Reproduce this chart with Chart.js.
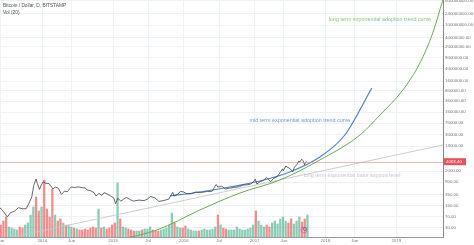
<!DOCTYPE html>
<html><head><meta charset="utf-8">
<script src="https://cdn.jsdelivr.net/npm/chart.js@4.4.0/dist/chart.umd.min.js"></script>
<style>html,body{margin:0;padding:0;background:#fff;overflow:hidden}#wrap{position:relative;width:474px;height:245px}</style>
</head><body><div id="wrap"><canvas id="c" width="474" height="245"></canvas></div>
<script>
// ---------- DATA ----------
const priceDates = ['2013-05-25','2013-06-01','2013-06-15','2013-07-05','2013-07-20','2013-08-10','2013-08-31','2013-09-20','2013-10-10','2013-10-25','2013-11-08','2013-11-18','2013-11-30','2013-12-07','2013-12-18','2013-12-25','2014-01-05','2014-01-20','2014-02-05','2014-02-25','2014-03-10','2014-03-25','2014-04-10','2014-04-25','2014-05-10','2014-05-30','2014-06-15','2014-07-05','2014-07-25','2014-08-10','2014-08-20','2014-09-05','2014-09-25','2014-10-05','2014-10-20','2014-11-05','2014-11-15','2014-12-01','2014-12-20','2015-01-05','2015-01-14','2015-01-25','2015-02-10','2015-03-10','2015-03-30','2015-04-15','2015-05-15','2015-06-10','2015-06-30','2015-07-12','2015-08-05','2015-08-25','2015-09-20','2015-10-15','2015-11-04','2015-11-12','2015-12-01','2015-12-15','2016-01-01','2016-01-15','2016-02-10','2016-03-01','2016-04-01','2016-05-01','2016-05-25','2016-06-16','2016-06-25','2016-07-15','2016-08-02','2016-08-25','2016-09-20','2016-10-15','2016-11-01','2016-11-20','2016-12-10','2016-12-25','2017-01-04','2017-01-12','2017-01-28','2017-02-15','2017-03-03','2017-03-10','2017-03-24','2017-04-10','2017-04-28','2017-05-10','2017-05-25','2017-05-28','2017-06-11','2017-06-20','2017-07-01','2017-07-16','2017-07-25','2017-08-05','2017-08-17','2017-08-22','2017-09-01','2017-09-08','2017-09-15','2017-09-20','2017-09-27'];
const priceValues = [130,128,100,68,92,103,135,125,125,190,300,700,1130,800,520,680,920,820,800,540,620,570,360,460,440,630,600,630,595,585,500,480,410,320,390,335,410,375,320,275,180,270,220,290,245,220,237,228,260,310,280,215,230,255,420,320,370,455,430,380,380,430,416,450,450,750,620,665,540,575,605,640,725,730,770,900,1130,780,920,1010,1270,1150,930,1200,1350,1750,2400,2050,2950,2700,2450,1950,2700,3200,4300,4000,4900,4300,3250,3900,4063.4];
const lastPrice = 4063.40;

const volStart = '2013-05-25';
const volStepDays = 14;
const volValues = [12,16,20,10,9,8,7,10,9,12,14,22,30,40,26,30,57,28,20,48,22,16,18,14,12,12,10,9,8,7,7,8,7,9,10,9,28,9,10,8,9,12,14,54,18,10,9,8,7,6,6,6,7,8,8,10,7,6,6,7,8,9,12,24,14,10,9,9,11,8,7,6,6,6,7,8,7,7,8,10,22,12,9,8,7,7,7,10,8,7,7,8,9,12,26,16,12,10,12,10,14,16,13,18,20,16,14,18,13,16,20,15,18,22];

const midDates = ['2015-10-21','2016-03-24','2016-08-26','2017-01-28','2017-07-01','2017-12-03','2018-04-11','2018-08-28'];
const midValues = [321,431,625,975,1899,5766,29380,955000];

const longDates = ['2014-09-03','2015-08-15','2016-03-24','2016-10-17','2017-05-11','2017-12-03','2018-06-28','2018-10-09','2019-02-04','2019-05-03','2019-07-08','2019-08-29'];
const longValues = [8.5,25.9,114,401,1050,4620,29380,129400,824000,6080000,56000000,647000000];

const baseDates = ['2013-05-27','2019-08-29'];
const baseValues = [12.5,14000];

const xTickDates = ['2013-06-01','2014-01-01','2014-06-01','2015-01-01','2015-07-01','2016-01-01','2016-07-01','2017-01-01','2017-06-01','2018-01-01','2018-06-01','2019-01-01'];
const xTickLabels = ['Jun','2014','Jun','2015','Jul','2016','Jul','2017','Jun','2018','Jun','2019'];
const yTickValues = [30,70,160,360,900,2000,13000,30000,70000,160000,360000,800000,1600000,4000000,9000000,20000000,40000000,100000000,240000000,600000000];

// ---------- HELPERS ----------
function toYear(s){const d=Date.parse(s+'T00:00:00Z');const y=new Date(d).getUTCFullYear();const a=Date.UTC(y,0,1),b=Date.UTC(y+1,0,1);return y+(d-a)/(b-a);}
function pts(ds,vs){return ds.map((d,i)=>({x:toYear(d),y:vs[i]}));}
const pricePts = pts(priceDates,priceValues);
function priceAt(t){for(let i=1;i<pricePts.length;i++){if(pricePts[i].x>=t){const a=pricePts[i-1],b=pricePts[i];return a.y+(b.y-a.y)*(t-a.x)/(b.x-a.x);}}return pricePts[pricePts.length-1].y;}
const volStartMs = Date.parse(volStart+'T00:00:00Z');
const volPts=[],volCols=[];
volValues.forEach((v,i)=>{
  const s=new Date(volStartMs+i*volStepDays*864e5).toISOString().slice(0,10);
  const e=new Date(volStartMs+(i+1)*volStepDays*864e5).toISOString().slice(0,10);
  const xs=toYear(s),xe=toYear(e);
  volPts.push({x:(xs+xe)/2,y:v});
  volCols.push(priceAt(xe)>=priceAt(xs)?'rgba(60,170,130,0.6)':'rgba(235,80,80,0.65)');
});

const FONT='"Liberation Sans", Arial, sans-serif';

const overlay={id:'overlay',
  afterDatasetsDraw(chart){
    const {ctx,chartArea:ca,scales:{x,y}}=chart;
    ctx.save();
    const py=Math.round(y.getPixelForValue(lastPrice))+0.5;
    ctx.strokeStyle='rgba(240,120,130,0.55)';ctx.lineWidth=1;
    ctx.beginPath();ctx.moveTo(ca.left,py);ctx.lineTo(ca.right,py);ctx.stroke();
    ctx.font='5.4px '+FONT;ctx.textBaseline='middle';ctx.textAlign='center';
    ctx.fillStyle='#8cc47e';
    ctx.fillText('long term exponential adoption trend curve',x.getPixelForValue(toYear('2018-10-09')),y.getPixelForValue(147000000));
    ctx.fillStyle='#6f9ad8';
    ctx.fillText('mid term exponential adoption trend curve',x.getPixelForValue(toYear('2017-08-22')),y.getPixelForValue(83000));
    ctx.fillStyle='#c8c8c8';
    ctx.fillText('long term exponential base support level',x.getPixelForValue(toYear('2018-05-18')),y.getPixelForValue(1410));
    // event marker near last bar
    const mx=x.getPixelForValue(toYear('2017-09-12')), my=ca.bottom-7;
    ctx.lineWidth=1;ctx.strokeStyle='rgba(230,90,130,0.8)';
    ctx.beginPath();ctx.arc(mx,my,3,0,Math.PI*2);ctx.stroke();
    ctx.strokeStyle='rgba(90,120,200,0.8)';
    ctx.beginPath();ctx.arc(mx+1,my-1,1.6,0,Math.PI*2);ctx.stroke();
    ctx.restore();
  },
  afterDraw(chart){
    const {ctx,chartArea:ca,scales:{y}}=chart;
    ctx.save();
    const py=y.getPixelForValue(lastPrice);
    ctx.fillStyle='#e8525c';
    ctx.fillRect(ca.right+1,py-3.5,22,7);
    ctx.fillStyle='#fff';ctx.font='4.4px '+FONT;ctx.textBaseline='middle';ctx.textAlign='left';
    ctx.fillText(lastPrice.toFixed(2),ca.right+3,py+0.3);
    ctx.fillStyle='#555';ctx.font='4.8px '+FONT;ctx.textBaseline='top';
    ctx.fillText('Bitcoin / Dollar, D, BITSTAMP',3,3);
    ctx.fillText('Vol (20)',3,10.5);
    ctx.restore();
  }
};

new Chart(document.getElementById('c'),{
  data:{datasets:[
    {type:'bar',data:volPts,yAxisID:'yv',backgroundColor:volCols,barThickness:1.6,order:5},
    {type:'line',data:pts(baseDates,baseValues),borderColor:'rgba(200,200,200,0.9)',borderWidth:1,pointRadius:0,order:4},
    {type:'line',data:pts(longDates,longValues),borderColor:'#6aab55',borderWidth:1,pointRadius:0,cubicInterpolationMode:'monotone',order:3},
    {type:'line',data:pts(midDates,midValues),borderColor:'#4f82c4',borderWidth:1.2,pointRadius:0,cubicInterpolationMode:'monotone',order:2},
    {type:'line',data:pricePts,borderColor:'#444',borderWidth:0.8,pointRadius:0,tension:0,order:1}
  ]},
  options:{
    responsive:false,animation:false,devicePixelRatio:1,
    layout:{padding:0},
    plugins:{legend:{display:false},tooltip:{enabled:false}},
    scales:{
      x:{type:'linear',min:2013.403,max:2019.66,offset:false,
        afterBuildTicks(s){s.ticks=xTickDates.map(d=>({value:toYear(d)}));},
        afterFit(s){s.height=8;s.paddingLeft=0;s.paddingRight=0;},
        ticks:{autoSkip:false,maxRotation:0,padding:1.5,color:'#777',font:{size:4.4,family:FONT},callback:(v,i)=>xTickLabels[i]},
        grid:{color:'#eef1f5',drawTicks:false,offset:false},border:{color:'#999'}},
      y:{type:'logarithmic',position:'right',min:15.4,max:646000000,
        afterBuildTicks(s){s.ticks=yTickValues.map(v=>({value:v}));},
        afterFit(s){s.width=31;s.paddingTop=0;s.paddingBottom=0;},
        ticks:{autoSkip:false,padding:2,color:'#777',font:{size:4.4,family:FONT},callback:v=>Number(v).toFixed(2)},
        grid:{color:'#eef1f5',drawTicks:false},border:{color:'#888'}},
      yv:{type:'linear',display:false,min:0,max:237}
    }
  },
  plugins:[overlay]
});
</script></body></html>
